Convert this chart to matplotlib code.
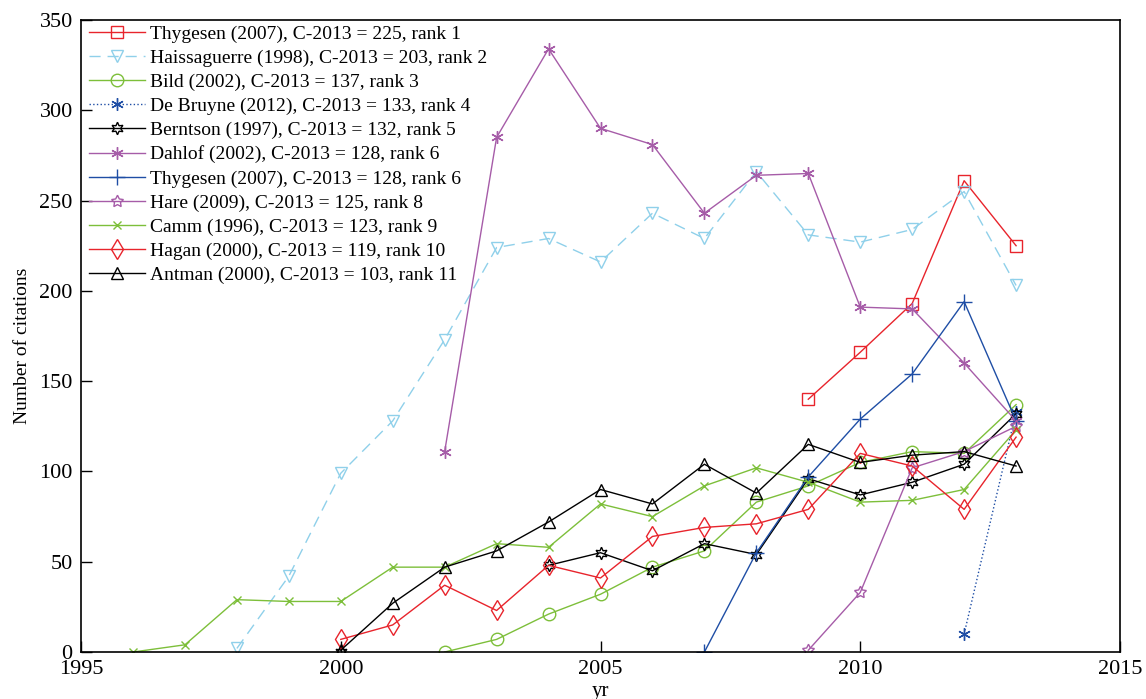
import numpy as np
import matplotlib
matplotlib.use("Agg")
import matplotlib.pyplot as plt

plt.rcParams['font.family'] = ['Liberation Serif', 'DejaVu Serif']

nan = np.nan

# citation counts per year
thygesen1_yr = [2009, 2010, 2011, 2012, 2013]
thygesen1 = [140, 166, 193, 261, 225]

haiss_yr = list(range(1998, 2014))
haiss = [2, 42, 99, 128, 173, 224, 229, 216, 243, 229, 266, 231, 227, 234, 255, 203]

bild_yr = list(range(2002, 2014))
bild = [0, 7, 21, 32, 47, 56, 83, 92, 105, 111, 110, 137]

debruyne_yr = [2012, 2013]
debruyne = [10, 133]

berntson_yr = list(range(2000, 2014))
berntson = [0, nan, nan, nan, 48, 55, 45, 60, 54, 96, 87, 94, 104, 132]

dahlof_yr = list(range(2002, 2014))
dahlof = [111, 285, 334, 290, 281, 243, 264, 265, 191, 190, 160, 128]

thygesen2_yr = list(range(2007, 2014))
thygesen2 = [0, 55, 97, 129, 154, 194, 128]

hare_yr = list(range(2009, 2014))
hare = [1, 33, 102, 111, 125]

camm_yr = list(range(1996, 2014))
camm = [0, 4, 29, 28, 28, 47, 47, 60, 58, 82, 75, 92, 102, 94, 83, 84, 90, 123]

hagan_yr = list(range(2000, 2014))
hagan = [7, 15, 37, 23, 48, 41, 64, 69, 71, 79, 110, 103, 79, 119]

antman_yr = list(range(2000, 2014))
antman = [1, 27, 47, 56, 72, 90, 82, 104, 88, 115, 105, 109, 111, 103]

labels = ["Thygesen (2007), C-2013 = 225, rank 1",
          "Haissaguerre (1998), C-2013 = 203, rank 2",
          "Bild (2002), C-2013 = 137, rank 3",
          "De Bruyne (2012), C-2013 = 133, rank 4",
          "Berntson (1997), C-2013 = 132, rank 5",
          "Dahlof (2002), C-2013 = 128, rank 6",
          "Thygesen (2007), C-2013 = 128, rank 6",
          "Hare (2009), C-2013 = 125, rank 8",
          "Camm (1996), C-2013 = 123, rank 9",
          "Hagan (2000), C-2013 = 119, rank 10",
          "Antman (2000), C-2013 = 103, rank 11"]

red = '#e8242c'
lblue = '#8fd0ea'
green = '#7dbf3a'
blue = '#1f4ea5'
purple = '#a65ca8'

fig = plt.figure(figsize=(11.46, 6.99), dpi=100)
ax = fig.add_axes([0.0707, 0.0672, 0.9066, 0.9042])

ms = 9
ax.plot(thygesen1_yr, thygesen1, color=red, lw=1, marker='s', ms=ms, mfc='none', label=labels[0])
ax.plot(haiss_yr, haiss, color=lblue, lw=1, ls=(0, (8, 5)), marker='v', ms=ms, mfc='none', label=labels[1])
ax.plot(bild_yr, bild, color=green, lw=1, marker='o', ms=ms, mfc='none', label=labels[2])
ax.plot(debruyne_yr, debruyne, color=blue, lw=1, ls=':', marker=(6, 2, 0), ms=ms, label=labels[3])
ax.plot(berntson_yr, berntson, color='black', lw=1, marker=(6, 1, 0), ms=ms, mfc='none', label=labels[4])
ax.plot(dahlof_yr, dahlof, color=purple, lw=1, marker=(6, 2, 0), ms=ms, label=labels[5])
ax.plot(thygesen2_yr, thygesen2, color=blue, lw=1, marker='+', ms=ms + 2, label=labels[6])
ax.plot(hare_yr, hare, color=purple, lw=1, marker=(5, 1, 0), ms=ms, mfc='none', label=labels[7])
ax.plot(camm_yr, camm, color=green, lw=1, marker='x', ms=ms - 3, label=labels[8])
ax.plot(hagan_yr, hagan, color=red, lw=1, marker='d', ms=ms + 1, mfc='none', label=labels[9])
ax.plot(antman_yr, antman, color='black', lw=1, marker='^', ms=ms, mfc='none', label=labels[10])

ax.set_xlim(1995, 2015)
ax.set_ylim(0, 350)
ax.set_xticks([1995, 2000, 2005, 2010, 2015])
ax.set_yticks(range(0, 351, 50))
ax.tick_params(direction='in', length=8, width=1, labelsize=16, pad=6)
for s in ax.spines.values():
    s.set_linewidth(1.2)

ax.set_xlabel("yr", fontsize=15, labelpad=2)
ax.set_ylabel("Number of citations", fontsize=14)
ax.yaxis.set_label_coords(-0.048, 0.485)

ax.legend(loc='upper left', bbox_to_anchor=(0.006, 0.995), borderaxespad=0.1, borderpad=0.0, frameon=False,
          fontsize=14, handlelength=2.85, labelspacing=0.33, handletextpad=0.3)

plt.savefig("out.png", dpi=100)
